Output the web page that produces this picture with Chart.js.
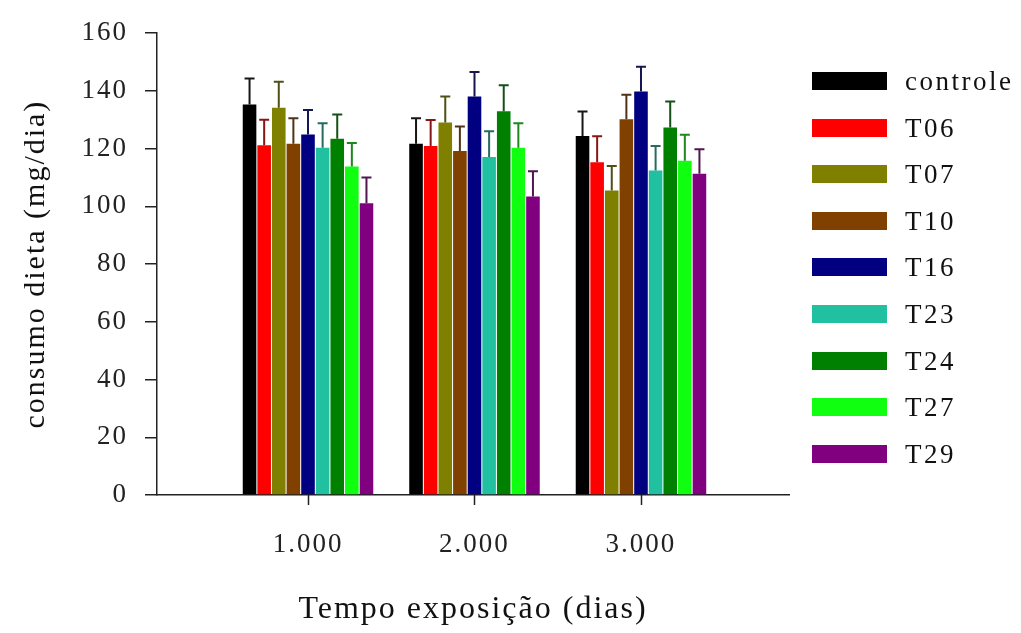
<!DOCTYPE html>
<html>
<head>
<meta charset="utf-8">
<script src="https://cdn.jsdelivr.net/npm/chart.js@4/dist/chart.umd.min.js"></script>
<style>
  body { margin: 0; background: #fff; }
  #wrap { position: relative; width: 1021px; height: 633px; }
  #legenda { position: absolute; left: 812px; top: 0; font-family: "Liberation Serif", serif; font-size: 27px; color: #111; letter-spacing: 2.5px; }
  .item { position: absolute; left: 0; height: 30px; white-space: nowrap; }
  .cx { position: absolute; left: 0; top: 6px; width: 75px; height: 18px; }
  .txt { position: absolute; left: 93px; top: 0; line-height: 30px; }
</style>
</head>
<body>
<div id="wrap">
  <canvas id="grafico" width="1021" height="633"></canvas>
  <div id="legenda"></div>
</div>
<script>
// --- dados ---
const dias = ['1.000', '2.000', '3.000'];
const tratamentos = ['controle', 'T06', 'T07', 'T10', 'T16', 'T23', 'T24', 'T27', 'T29'];
const cores = ['#000000', '#ff0000', '#808000', '#804000', '#000080', '#20c0a0', '#008000', '#10ff10', '#800080'];

// consumo medio (mg/dia) por tratamento, em cada dia
const mediaDia1 = [135.3, 121.2, 134.2, 121.7, 124.9, 120.3, 123.4, 113.8, 101.1];
const mediaDia2 = [121.7, 120.9, 129.1, 119.2, 138.1, 117.1, 133.0, 120.3, 103.4];
const mediaDia3 = [124.4, 115.3, 105.5, 130.2, 139.8, 112.4, 127.3, 115.8, 111.3];

// barra de erro (so para cima)
const erroDia1 = [9.0, 8.8, 9.0, 8.8, 8.5, 8.5, 8.4, 8.2, 8.9];
const erroDia2 = [8.8, 9.0, 9.0, 8.5, 8.5, 8.9, 9.0, 8.5, 8.8];
const erroDia3 = [8.5, 9.0, 8.5, 8.5, 8.6, 8.5, 9.0, 9.0, 8.5];

const yTicks = [0, 20, 40, 60, 80, 100, 120, 140, 160];

const medias = [mediaDia1, mediaDia2, mediaDia3];
const erros = [erroDia1, erroDia2, erroDia3];

const datasets = tratamentos.map((nome, t) => ({
    label: nome,
    data: dias.map((d, i) => ({ x: i + 1, y: medias[i][t] })),
    erro: dias.map((d, i) => erros[i][t]),
    backgroundColor: cores[t],
    borderWidth: 0
}));

// mistura a cor da barra com cinza escuro para o erro
function corErro(hex) {
    const r = parseInt(hex.slice(1, 3), 16), g = parseInt(hex.slice(3, 5), 16), b = parseInt(hex.slice(5, 7), 16);
    const m = v => Math.round(v * 0.45 + 40 * 0.55);
    return `rgb(${m(r)}, ${m(g)}, ${m(b)})`;
}

// texto um pouco espacado, como no original
const espacamento = {
    id: 'espacamento',
    beforeDraw(chart) { chart.ctx.letterSpacing = '2px'; }
};

const errorBars = {
    id: 'errorBars',
    afterDatasetsDraw(chart) {
        const ctx = chart.ctx;
        const yScale = chart.scales.y;
        chart.data.datasets.forEach((ds, i) => {
            const meta = chart.getDatasetMeta(i);
            ctx.save();
            ctx.strokeStyle = corErro(cores[i]);
            ctx.lineWidth = 2;
            meta.data.forEach((bar, j) => {
                const topo = yScale.getPixelForValue(ds.data[j].y + ds.erro[j]);
                ctx.beginPath();
                ctx.moveTo(bar.x, bar.y);
                ctx.lineTo(bar.x, topo);
                ctx.moveTo(bar.x - 5, topo);
                ctx.lineTo(bar.x + 5, topo);
                ctx.stroke();
            });
            ctx.restore();
        });
    },
    afterDraw(chart) {
        // marcas do eixo x no centro de cada grupo
        const ctx = chart.ctx;
        const xScale = chart.scales.x;
        const base = chart.chartArea.bottom;
        ctx.save();
        ctx.strokeStyle = '#222';
        ctx.lineWidth = 1.5;
        dias.forEach((d, i) => {
            const px = Math.round(xScale.getPixelForValue(i + 1)) + 0.5;
            ctx.beginPath();
            ctx.moveTo(px, base);
            ctx.lineTo(px, base + 10);
            ctx.stroke();
        });
        ctx.restore();
    }
};

const serif = '"Liberation Serif", "Times New Roman", serif';

new Chart(document.getElementById('grafico'), {
    type: 'bar',
    data: { datasets },
    options: {
        responsive: false,
        animation: false,
        devicePixelRatio: 1,
        layout: { padding: { left: 14, right: 232, top: 24, bottom: 0 } },
        plugins: { legend: { display: false }, tooltip: { enabled: false } },
        datasets: { bar: { categoryPercentage: 0.79, barPercentage: 0.93 } },
        scales: {
            x: {
                type: 'linear',
                min: 0.093,
                max: 3.889,
                offset: false,
                afterBuildTicks: scale => { scale.ticks = dias.map((d, i) => ({ value: i + 1 })); },
                afterFit: scale => { scale.height = 138; },
                ticks: {
                    callback: (v, i) => dias[i],
                    color: '#222',
                    font: { family: serif, size: 27 },
                    padding: 34,
                    maxRotation: 0
                },
                grid: { display: false, drawTicks: false, tickLength: 0 },
                border: { display: true, color: '#222', width: 1.5 },
                title: { display: true, text: 'Tempo exposição (dias)', color: '#111', font: { family: serif, size: 32 } }
            },
            y: {
                min: 0,
                max: 160,
                afterBuildTicks: scale => { scale.ticks = yTicks.map(v => ({ value: v })); },
                afterFit: scale => { scale.width = 143; },
                ticks: { color: '#222', font: { family: serif, size: 27 }, padding: 17 },
                grid: { drawOnChartArea: false, color: '#222', tickLength: 12, lineWidth: 1.5 },
                border: { color: '#222', width: 1.5 },
                title: { display: true, text: 'consumo dieta (mg/dia)', color: '#111', font: { family: serif, size: 30 } }
            }
        }
    },
    plugins: [espacamento, errorBars]
});

// legenda a direita
const legenda = document.getElementById('legenda');
tratamentos.forEach((nome, t) => {
    const item = document.createElement('div');
    item.className = 'item';
    item.style.top = (81 + t * 46.6 - 15) + 'px';
    item.innerHTML = `<div class="cx" style="background:${cores[t]}"></div><div class="txt">${nome}</div>`;
    legenda.appendChild(item);
});
</script>
</body>
</html>
